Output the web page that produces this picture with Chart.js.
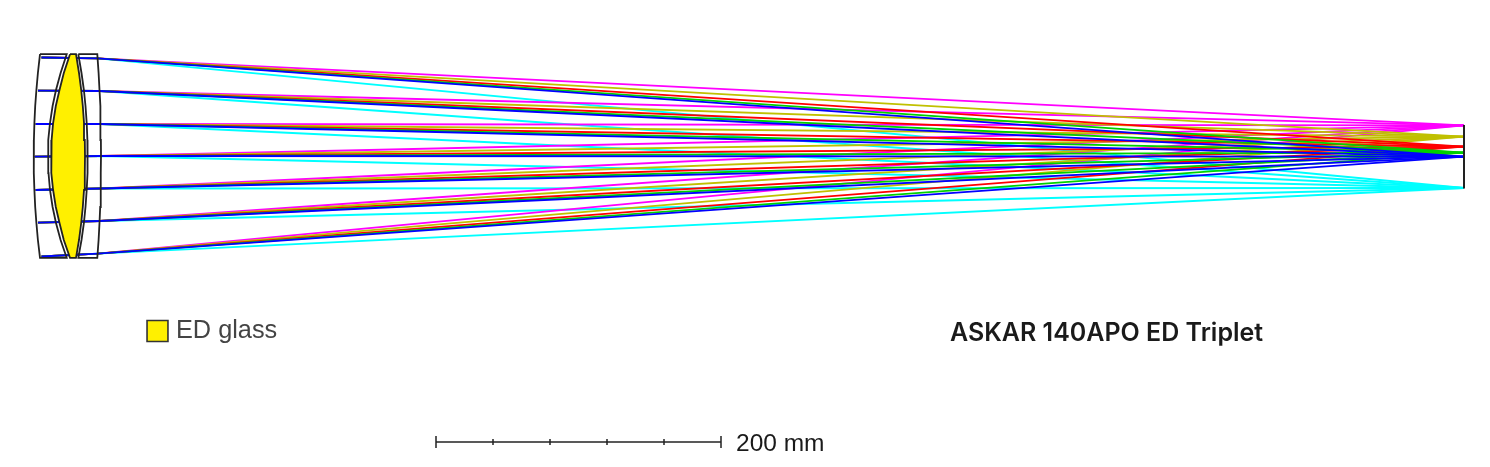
<!DOCTYPE html>
<html><head><meta charset="utf-8">
<style>html,body{margin:0;padding:0;background:#fff}canvas{display:block}</style>
<script src="https://cdn.jsdelivr.net/npm/chart.js@4"></script>
</head><body><canvas id="c" width="1490" height="467"></canvas>
<script>
// Diagram units: one unit per picture pixel
const rayHeights = [57.5, 90.7, 124, 156.7, 190, 222.7, 256.5];
const rayStartX  = [41.5, 38, 35.7, 34.7, 35.7, 38, 41.5];
const rayExitX   = [97.5, 100, 100.7, 101, 100.7, 100, 97.5];
const rayExitY   = [58.3, 91, 124, 156, 188.5, 221, 253.7];
const focusX = 1464;
const fieldNames  = ['cyan', 'magenta', 'olive', 'red', 'green', 'blue'];
const fieldColors = ['#00ffff', '#ff00ff', '#c0c000', '#ff0000', '#00d000', '#0000ff'];
const fieldFocusY = [188, 125.4, 136.7, 146.7, 152.7, 156.7];

const lensY     = [54.2, 73, 90, 106, 123, 140, 156, 173, 190, 207, 223, 240, 257.8];
const el1Left   = [40, 37.9, 36.4, 35.2, 34.4, 33.9, 33.7, 33.9, 34.4, 35.2, 36.4, 37.9, 40];
const el1Right  = [66.7, 60.6, 56, 52.6, 50, 48.5, 48, 48.5, 50, 52.6, 56, 60.6, 66.7];
const el2Left   = [70, 63.8, 59.5, 55.8, 53.1, 51.6, 51, 51.6, 53.1, 55.8, 59.5, 63.8, 70];
const el2Right  = [76, 79, 81.2, 82.8, 84, 84.8, 85, 84.8, 84, 82.8, 81.2, 79, 76];
const el3Left   = [78.3, 81.5, 83.9, 85.5, 86.7, 87.4, 87.7, 87.4, 86.7, 85.5, 83.9, 81.5, 78.3];
const el3Right  = [97.3, 98.6, 99.5, 100.2, 100.6, 100.9, 101, 100.9, 100.6, 100.2, 99.5, 98.6, 97.3];
const focalPlaneY = [125, 188.5];

const scaleBarX = [436, 721];
const scaleBarY = 442;
const scaleTicksX = [436, 493, 550, 607, 664, 721];
const scaleTickHalf = [6, 3, 3, 3, 3, 6];
const swatch = {x: 157.5, y: 331};
const labels = [
  {text: 'ED glass', x: 176, y: 331, font: '400 25.3px "Liberation Sans"', color: '#444444'},
  {text: 'ASKAR 140APO ED Triplet', x: 950, y: 333, font: '600 25px "Inter"', color: '#1a1a1a'},
  {text: '200 mm', x: 736, y: 444, font: '400 24.5px "Liberation Sans"', color: '#1a1a1a'}
];

const outline = (xs, ys) => xs.map((x, i) => ({x, y: ys[i]}));
const closedLens = (left, right) => outline(left.concat(right.slice().reverse(), [left[0]]),
                                            lensY.concat(lensY.slice().reverse(), [lensY[0]]));
const datasets = [];

fieldNames.forEach((name, f) => {
  rayHeights.forEach((h, r) => {
    datasets.push({
      label: name + ' ' + r,
      data: [{x: rayStartX[r], y: h}, {x: rayExitX[r], y: rayExitY[r]}, {x: focusX, y: fieldFocusY[f]}],
      borderColor: fieldColors[f], borderWidth: 1.8, pointRadius: 0, showLine: true,
      tension: 0, fill: false, order: 100 - f
    });
  });
});

const lensStyle = {borderColor: '#222', borderWidth: 1.8, pointRadius: 0, showLine: true, tension: 0, order: 5};
datasets.push({label: 'element 2', data: closedLens(el2Left, el2Right), backgroundColor: '#fff000', fill: 'shape', ...lensStyle});
datasets.push({label: 'element 1', data: closedLens(el1Left, el1Right), fill: false, ...lensStyle});
datasets.push({label: 'element 3', data: closedLens(el3Left, el3Right), fill: false, ...lensStyle});
datasets.push({label: 'focal plane', data: focalPlaneY.map(y => ({x: focusX, y})), borderColor: '#222', borderWidth: 2, pointRadius: 0, showLine: true, order: 4});

datasets.push({label: 'scale bar', data: scaleBarX.map(x => ({x, y: scaleBarY})), borderColor: '#222', borderWidth: 1.5, pointRadius: 0, showLine: true, order: 3});
scaleTicksX.forEach((x, i) => datasets.push({
  label: 'scale tick ' + i,
  data: [{x, y: scaleBarY - scaleTickHalf[i]}, {x, y: scaleBarY + scaleTickHalf[i]}],
  borderColor: '#222', borderWidth: 1.5, pointRadius: 0, showLine: true, order: 3
}));
datasets.push({label: 'ED swatch', data: [swatch], pointStyle: 'rect', pointRadius: 14.8, pointBackgroundColor: '#fff000', pointBorderColor: '#333', pointBorderWidth: 1.6, showLine: false, order: 2});

const textPlugin = {
  id: 'texts',
  afterDatasetsDraw(chart) {
    const {ctx, scales: {x, y}} = chart;
    ctx.save();
    ctx.textBaseline = 'middle';
    ctx.textAlign = 'left';
    labels.forEach(l => {
      ctx.font = l.font;
      ctx.fillStyle = l.color;
      ctx.fillText(l.text, x.getPixelForValue(l.x), y.getPixelForValue(l.y));
    });
    ctx.restore();
  }
};

new Chart(document.getElementById('c'), {
  type: 'scatter',
  data: {datasets},
  plugins: [textPlugin],
  options: {
    responsive: false, animation: false, devicePixelRatio: 1,
    layout: {padding: 0, autoPadding: false},
    plugins: {legend: {display: false}, tooltip: {enabled: false}, title: {display: false}},
    scales: {
      x: {type: 'linear', min: 0, max: 1490, display: false},
      y: {type: 'linear', min: 0, max: 467, reverse: true, display: false}
    }
  }
});
</script></body></html>
